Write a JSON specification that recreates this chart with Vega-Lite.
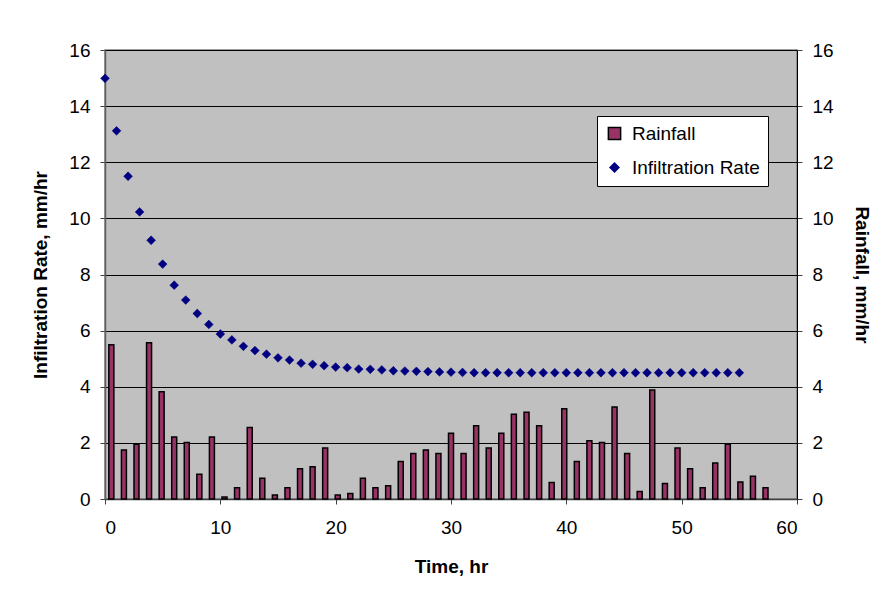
{
  "$schema": "https://vega.github.io/schema/vega-lite/v6.json",
  "width": 692,
  "height": 449,
  "autosize": "none",
  "padding": {"left": 105, "top": 50, "right": 88, "bottom": 104},
  "background": "white",
  "config": {
    "font": "Liberation Sans",
    "view": {"fill": "#C0C0C0", "stroke": "#808080", "strokeWidth": 1.5},
    "axis": {
      "labelFont": "Liberation Sans",
      "labelFontSize": 19,
      "labelColor": "black",
      "titleFont": "Liberation Sans",
      "titleFontSize": 19,
      "titleFontWeight": "bold",
      "titleColor": "black",
      "tickSize": 5,
      "tickColor": "#404040",
      "domainColor": "#404040"
    },
    "legend": {
      "title": null, "orient": "none", "legendX": 492, "legendY": 66,
      "fillColor": "white", "strokeColor": "black", "padding": 8, "rowPadding": 14,
      "labelFontSize": 19, "labelFont": "Liberation Sans", "labelColor": "black",
      "symbolSize": 150, "symbolStrokeWidth": 1.5, "labelOffset": 8, "cornerRadius": 0
    }
  },
  "datasets": {
    "rain": [
      {"t": 0.55, "rain": 5.50}, {"t": 1.64, "rain": 1.75}, {"t": 2.73, "rain": 1.95}, {"t": 3.82, "rain": 5.57},
      {"t": 4.91, "rain": 3.82}, {"t": 6.00, "rain": 2.21}, {"t": 7.09, "rain": 2.01}, {"t": 8.18, "rain": 0.88},
      {"t": 9.27, "rain": 2.21}, {"t": 10.36, "rain": 0.07}, {"t": 11.45, "rain": 0.40}, {"t": 12.55, "rain": 2.55},
      {"t": 13.64, "rain": 0.74}, {"t": 14.73, "rain": 0.14}, {"t": 15.82, "rain": 0.40}, {"t": 16.91, "rain": 1.08},
      {"t": 18.00, "rain": 1.15}, {"t": 19.09, "rain": 1.82}, {"t": 20.18, "rain": 0.14}, {"t": 21.27, "rain": 0.20},
      {"t": 22.36, "rain": 0.74}, {"t": 23.45, "rain": 0.40}, {"t": 24.55, "rain": 0.47}, {"t": 25.64, "rain": 1.34},
      {"t": 26.73, "rain": 1.62}, {"t": 27.82, "rain": 1.75}, {"t": 28.91, "rain": 1.62}, {"t": 30.00, "rain": 2.34},
      {"t": 31.09, "rain": 1.62}, {"t": 32.18, "rain": 2.61}, {"t": 33.27, "rain": 1.82}, {"t": 34.36, "rain": 2.34},
      {"t": 35.45, "rain": 3.02}, {"t": 36.55, "rain": 3.09}, {"t": 37.64, "rain": 2.61}, {"t": 38.73, "rain": 0.59},
      {"t": 39.82, "rain": 3.22}, {"t": 40.91, "rain": 1.34}, {"t": 42.00, "rain": 2.08}, {"t": 43.09, "rain": 2.01},
      {"t": 44.18, "rain": 3.28}, {"t": 45.27, "rain": 1.62}, {"t": 46.36, "rain": 0.27}, {"t": 47.45, "rain": 3.88},
      {"t": 48.55, "rain": 0.55}, {"t": 49.64, "rain": 1.82}, {"t": 50.73, "rain": 1.08}, {"t": 51.82, "rain": 0.40},
      {"t": 52.91, "rain": 1.28}, {"t": 54.00, "rain": 1.95}, {"t": 55.09, "rain": 0.61}, {"t": 56.18, "rain": 0.81},
      {"t": 57.27, "rain": 0.40}
    ],
    "infil": [
      {"t": 0, "rate": 14.99}, {"t": 1, "rate": 13.12}, {"t": 2, "rate": 11.5}, {"t": 3, "rate": 10.23},
      {"t": 4, "rate": 9.22}, {"t": 5, "rate": 8.37}, {"t": 6, "rate": 7.62}, {"t": 7, "rate": 7.09},
      {"t": 8, "rate": 6.61}, {"t": 9, "rate": 6.22}, {"t": 10, "rate": 5.88}, {"t": 11, "rate": 5.67},
      {"t": 12, "rate": 5.44}, {"t": 13, "rate": 5.29}, {"t": 14, "rate": 5.16}, {"t": 15, "rate": 5.03},
      {"t": 16, "rate": 4.95}, {"t": 17, "rate": 4.84}, {"t": 18, "rate": 4.8}, {"t": 19, "rate": 4.75},
      {"t": 20, "rate": 4.7}, {"t": 21, "rate": 4.68}, {"t": 22, "rate": 4.63}, {"t": 23, "rate": 4.62},
      {"t": 24, "rate": 4.6}, {"t": 25, "rate": 4.57}, {"t": 26, "rate": 4.56}, {"t": 27, "rate": 4.55},
      {"t": 28, "rate": 4.54}, {"t": 29, "rate": 4.53}, {"t": 30, "rate": 4.52}, {"t": 31, "rate": 4.51},
      {"t": 32, "rate": 4.5}, {"t": 33, "rate": 4.5}, {"t": 34, "rate": 4.5}, {"t": 35, "rate": 4.5},
      {"t": 36, "rate": 4.5}, {"t": 37, "rate": 4.5}, {"t": 38, "rate": 4.5}, {"t": 39, "rate": 4.5},
      {"t": 40, "rate": 4.5}, {"t": 41, "rate": 4.5}, {"t": 42, "rate": 4.5}, {"t": 43, "rate": 4.5},
      {"t": 44, "rate": 4.5}, {"t": 45, "rate": 4.5}, {"t": 46, "rate": 4.5}, {"t": 47, "rate": 4.5},
      {"t": 48, "rate": 4.5}, {"t": 49, "rate": 4.5}, {"t": 50, "rate": 4.5}, {"t": 51, "rate": 4.5},
      {"t": 52, "rate": 4.5}, {"t": 53, "rate": 4.5}, {"t": 54, "rate": 4.5}, {"t": 55, "rate": 4.5}
    ]
  },
  "layer": [
    {
      "data": {"name": "rain"},
      "transform": [{"calculate": "'Rainfall'", "as": "series"}],
      "mark": {"type": "bar", "size": 5, "strokeWidth": 1.5},
      "encoding": {
        "x": {"field": "t", "type": "quantitative", "scale": {"domain": [0, 60], "nice": false, "padding": 0},
          "axis": {"title": "Time, hr", "values": [0, 10, 20, 30, 40, 50, 60], "grid": false, "labelPadding": 14, "titlePadding": 20, "domainColor": "#404040", "domainWidth": 1.5}},
        "y": {"field": "rain", "type": "quantitative", "scale": {"domain": [0, 16], "nice": false},
          "axis": {"orient": "right", "title": "Rainfall, mm/hr", "values": [0, 2, 4, 6, 8, 10, 12, 14, 16], "grid": false, "labelPadding": 10, "titlePadding": 18, "domainColor": "black"}},
        "fill": {"field": "series", "type": "nominal",
          "scale": {"domain": ["Rainfall", "Infiltration Rate"], "range": ["#993366", "#000080"]}},
        "stroke": {"field": "series", "type": "nominal",
          "scale": {"domain": ["Rainfall", "Infiltration Rate"], "range": ["black", "#000080"]}}
      }
    },
    {
      "data": {"name": "infil"},
      "transform": [{"calculate": "'Infiltration Rate'", "as": "series"}],
      "mark": {"type": "point", "filled": true, "size": 150, "strokeWidth": 0.5, "opacity": 1},
      "encoding": {
        "x": {"field": "t", "type": "quantitative"},
        "y": {"field": "rate", "type": "quantitative", "scale": {"domain": [0, 16], "nice": false},
          "axis": {"orient": "left", "title": "Infiltration Rate, mm/hr", "values": [0, 2, 4, 6, 8, 10, 12, 14, 16], "grid": true, "gridColor": "black", "gridWidth": 1, "labelPadding": 10, "titlePadding": 18, "domainColor": "#606060", "domainWidth": 1.5}},
        "fill": {"field": "series", "type": "nominal"},
        "stroke": {"field": "series", "type": "nominal"},
        "shape": {"field": "series", "type": "nominal",
          "scale": {"domain": ["Rainfall", "Infiltration Rate"], "range": ["square", "M-0.72,0L0,-0.72L0.72,0L0,0.72Z"]}}
      }
    }
  ],
  "resolve": {"scale": {"y": "independent"}}
}
